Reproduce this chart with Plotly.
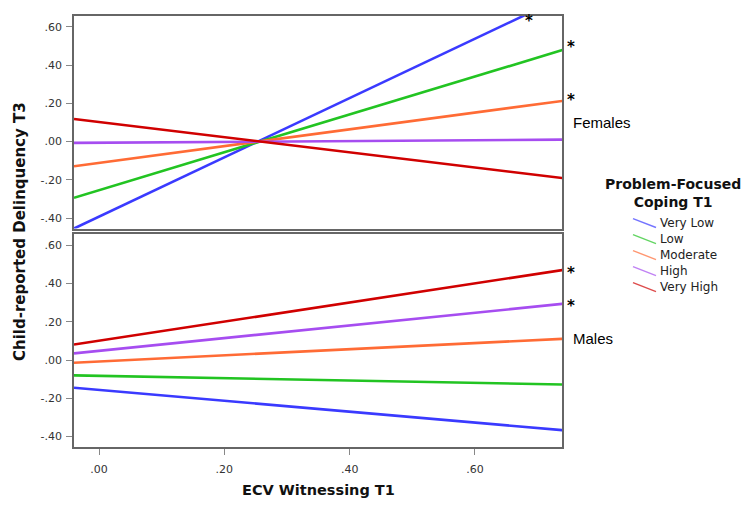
import plotly.graph_objects as go
from plotly.subplots import make_subplots

# x endpoints of the simple-slope lines (ECV Witnessing T1)
x_vals = [-0.04, 0.74]

groups = ["Very Low", "Low", "Moderate", "High", "Very High"]
colors = ["#3a3aff", "#22c422", "#ff6b35", "#a64df0", "#d00000"]

# Females (top panel): predicted delinquency at x_vals
fem_very_low = [-0.455, 0.755]
fem_low = [-0.294, 0.479]
fem_moderate = [-0.129, 0.213]
fem_high = [-0.007, 0.010]
fem_very_high = [0.118, -0.191]

# Males (bottom panel)
mal_very_low = [-0.145, -0.367]
mal_low = [-0.080, -0.128]
mal_moderate = [-0.014, 0.111]
mal_high = [0.035, 0.294]
mal_very_high = [0.081, 0.471]

females = [fem_very_low, fem_low, fem_moderate, fem_high, fem_very_high]
males = [mal_very_low, mal_low, mal_moderate, mal_high, mal_very_high]

y_ticks = [-0.4, -0.2, 0.0, 0.2, 0.4, 0.6]
y_tick_text = ["-.40", "-.20", ".00", ".20", ".40", ".60"]
x_ticks = [0.0, 0.2, 0.4, 0.6]
x_tick_text = [".00", ".20", ".40", ".60"]

fig = make_subplots(rows=2, cols=1, shared_xaxes=True, vertical_spacing=0.0138)

for name, col, yv in zip(groups, colors, females):
    fig.add_trace(go.Scatter(x=x_vals, y=yv, mode="lines", name=name,
                             line=dict(color=col, width=2.6), showlegend=False),
                  row=1, col=1)
for name, col, yv in zip(groups, colors, males):
    fig.add_trace(go.Scatter(x=x_vals, y=yv, mode="lines", name=name,
                             line=dict(color=col, width=2.6), showlegend=False),
                  row=2, col=1)

tickfont = dict(family="DejaVu Sans", size=11, color="#333333")
axis_common = dict(showline=True, linecolor="#666666", linewidth=1.5, mirror=True,
                   showgrid=False, zeroline=False, ticks="outside", ticklen=6,
                   tickcolor="#888888", tickfont=tickfont)

for r in (1, 2):
    fig.update_yaxes(range=[-0.455, 0.657], tickvals=y_ticks, ticktext=y_tick_text,
                     ticklabelstandoff=2, row=r, col=1, **axis_common)
    fig.update_xaxes(range=[-0.04, 0.739], tickvals=x_ticks, ticktext=x_tick_text,
                     ticklabelstandoff=5, row=r, col=1, **axis_common)
fig.update_xaxes(ticks="", showticklabels=False, row=1, col=1)

star_font = dict(family="DejaVu Sans", size=15, color="black")
lab_font = dict(family="Liberation Sans", size=15, color="black")

# helpers: reference-image pixel -> paper coordinates (plot area 74..562 x 14..447)
def px_x(p):
    return (p - 74) / 488.0

def px_y(p):
    return (447 - p) / 433.0

# top star, anchored by its top edge at the page top
fig.add_annotation(text="<b>*</b>", x=px_x(529), y=px_y(8), xref="paper", yref="paper",
                   showarrow=False, xanchor="center", yanchor="top", font=star_font)
annots = [
    ("<b>*</b>", 571, 45),
    ("<b>*</b>", 571, 98),
    ("<b>*</b>", 571, 272),
    ("<b>*</b>", 571, 305),
]
for t, ax, ay in annots:
    fig.add_annotation(text=t, x=px_x(ax), y=px_y(ay), xref="paper", yref="paper",
                       showarrow=False, xanchor="center", yanchor="middle", font=star_font)

fig.add_annotation(text="Females", x=px_x(571), y=px_y(121), xref="paper", yref="paper",
                   showarrow=False, xanchor="left", yanchor="middle", font=lab_font)
fig.add_annotation(text="Males", x=px_x(571), y=px_y(338), xref="paper", yref="paper",
                   showarrow=False, xanchor="left", yanchor="middle", font=lab_font)

title_font = dict(family="DejaVu Sans", size=15, color="#111111")
fig.add_annotation(text="<b>Child-reported Delinquency T3</b>", textangle=-90,
                   x=px_x(20), y=px_y(231), xref="paper", yref="paper", showarrow=False,
                   xanchor="center", yanchor="middle", font=title_font)
fig.add_annotation(text="<b>ECV Witnessing T1</b>",
                   x=px_x(318), y=px_y(490), xref="paper", yref="paper", showarrow=False,
                   xanchor="center", yanchor="middle",
                   font=dict(family="DejaVu Sans", size=14.5, color="#111111"))

# legend (custom, to match the slanted glyphs and tight spacing)
fig.add_annotation(text="<b>Problem-Focused</b><br><b>Coping T1</b>", align="center",
                   x=px_x(673), y=px_y(192), xref="paper", yref="paper", showarrow=False,
                   xanchor="center", yanchor="middle",
                   font=dict(family="DejaVu Sans", size=14, color="#111111"))
row_gap = 16.1
for i, (name, col) in enumerate(zip(groups, colors)):
    yc = 222 + row_gap * i
    fig.add_shape(type="line", xref="paper", yref="paper",
                  x0=px_x(633), y0=px_y(yc - 4.5), x1=px_x(656), y1=px_y(yc + 4.5),
                  line=dict(color=col, width=1.4), opacity=0.7)
    fig.add_annotation(text=name, x=px_x(658), y=px_y(yc), xref="paper", yref="paper",
                       showarrow=False, xanchor="left", yanchor="middle",
                       font=dict(family="DejaVu Sans", size=12, color="#222222"))

# the page body adds an 8px margin, so the figure is 16px smaller than the window
fig.update_layout(
    width=734, height=500,
    margin=dict(l=66, r=180, t=6, b=61),
    plot_bgcolor="white", paper_bgcolor="white",
    showlegend=False,
)

fig.write_html("out.html")
